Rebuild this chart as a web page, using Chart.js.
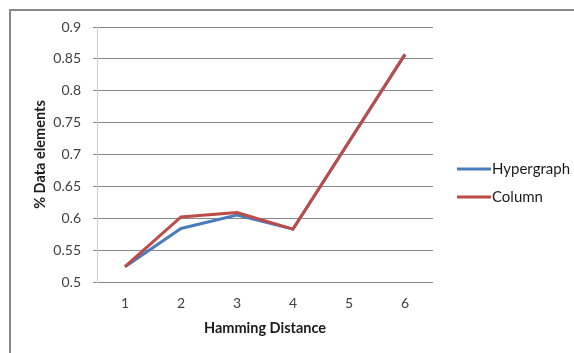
<!DOCTYPE html>
<html>
<head>
<meta charset="utf-8">
<script src="https://cdn.jsdelivr.net/npm/chart.js@4/dist/chart.umd.min.js"></script>
<style>
  html, body { margin: 0; padding: 0; background: #ffffff; }
  #wrap { width: 574px; height: 353px; position: relative; }
</style>
</head>
<body>
<div id="wrap"><canvas id="c"></canvas></div>
<script>
// Hamming distance categories
const categories = ['1', '2', '3', '4', '5', '6'];
// Share of data elements per scheme
const hypergraph = [0.524, 0.584, 0.605, 0.583, 0.72, 0.857];
const column = [0.524, 0.602, 0.609, 0.583, 0.72, 0.857];
// Value axis ticks
const yTicks = [0.5, 0.55, 0.6, 0.65, 0.7, 0.75, 0.8, 0.85, 0.9];
const yTickLabels = ['0.5', '0.55', '0.6', '0.65', '0.7', '0.75', '0.8', '0.85', '0.9'];

const FONT = 'Lato, "Liberation Sans", sans-serif';

// Outer frame (top and left edges) plus the legend on the right
const framePlugin = {
  id: 'frame',
  beforeDraw(chart) {
    const ctx = chart.ctx;
    ctx.save();
    ctx.fillStyle = '#ffffff';
    ctx.fillRect(0, 0, chart.width, chart.height);
    ctx.strokeStyle = '#878787';
    ctx.lineWidth = 2;
    ctx.beginPath();
    ctx.moveTo(10, chart.height);
    ctx.lineTo(10, 10);
    ctx.lineTo(chart.width, 10);
    ctx.stroke();
    ctx.restore();
  },
  afterDraw(chart) {
    const ctx = chart.ctx;
    ctx.save();
    chart.data.datasets.forEach((ds, i) => {
      const y = 169 + i * 28;
      ctx.strokeStyle = ds.borderColor;
      ctx.lineWidth = 3;
      ctx.beginPath();
      ctx.moveTo(457, y);
      ctx.lineTo(491, y);
      ctx.stroke();
      ctx.fillStyle = '#1a1a1a';
      ctx.font = '15px ' + FONT;
      ctx.textBaseline = 'middle';
      ctx.textAlign = 'left';
      ctx.fillText(ds.label, 492, y);
    });
    ctx.restore();
  }
};

new Chart(document.getElementById('c'), {
  type: 'line',
  data: {
    labels: categories,
    datasets: [
      {
        label: 'Hypergraph',
        data: hypergraph,
        borderColor: '#4a7ebb',
        borderWidth: 3,
        pointRadius: 0,
        tension: 0,
        fill: false,
        order: 1
      },
      {
        label: 'Column',
        data: column,
        borderColor: '#be4b48',
        borderWidth: 3,
        pointRadius: 0,
        tension: 0,
        fill: false,
        order: 0
      }
    ]
  },
  plugins: [framePlugin],
  options: {
    responsive: true,
    maintainAspectRatio: false,
    animation: false,
    layout: { padding: { left: 0, top: 27, right: 141, bottom: 0 } },
    plugins: {
      legend: { display: false },
      tooltip: { enabled: false }
    },
    scales: {
      x: {
        type: 'category',
        offset: true,
        grid: { display: false, drawTicks: false },
        border: { display: false },
        ticks: {
          color: '#404040',
          font: { family: FONT, size: 14 },
          padding: 13,
          maxRotation: 0
        },
        title: {
          display: true,
          text: 'Hamming Distance',
          color: '#1a1a1a',
          font: { family: FONT, size: 14.5, weight: 'bold' },
          padding: { top: 0, bottom: 16 }
        },
        afterFit(scale) { scale.height = 71; }
      },
      y: {
        min: 0.5,
        max: 0.9,
        afterBuildTicks(scale) {
          scale.ticks = yTicks.map(v => ({ value: v }));
        },
        grid: {
          color: '#878787',
          lineWidth: 1,
          drawTicks: true,
          tickLength: 4,
          tickColor: '#878787'
        },
        border: { display: true, color: '#d0d0d0', width: 1 },
        ticks: {
          color: '#404040',
          font: { family: FONT, size: 14 },
          padding: 12,
          callback(value) {
            const i = yTicks.findIndex(t => Math.abs(t - value) < 1e-9);
            return i >= 0 ? yTickLabels[i] : '';
          }
        },
        title: {
          display: true,
          text: '% Data elements',
          color: '#1a1a1a',
          font: { family: FONT, size: 14.5, weight: 'bold' },
          padding: { top: 32, bottom: 0 }
        },
        afterFit(scale) { scale.width = 97; }
      }
    }
  }
});
</script>
</body>
</html>
